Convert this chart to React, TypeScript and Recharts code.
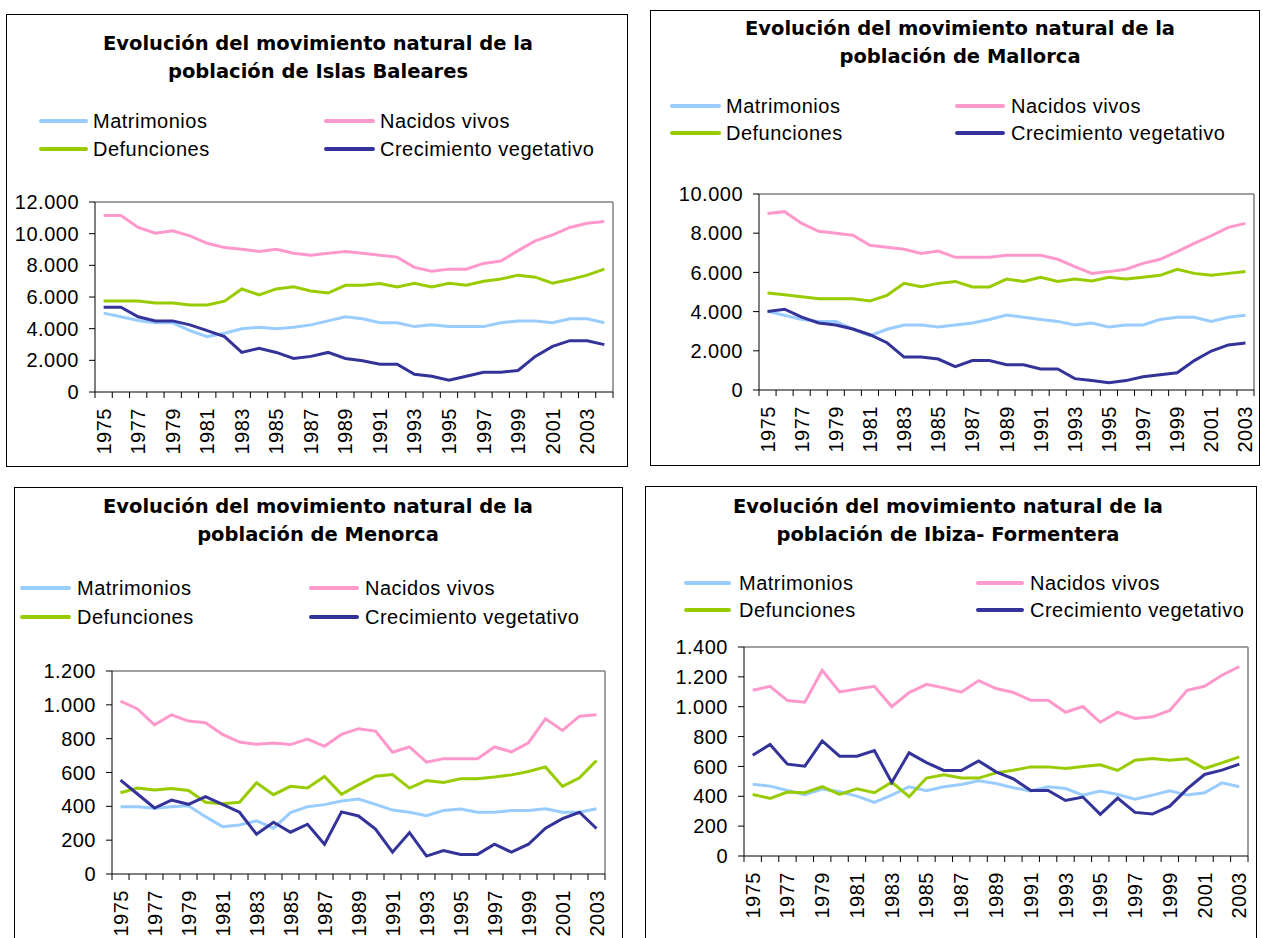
import React from 'react';
import { LineChart, Line, XAxis, YAxis, ReferenceLine } from 'recharts';

// years on the category axis
const YEARS = [
  1975, 1976, 1977, 1978, 1979, 1980, 1981, 1982, 1983, 1984,
  1985, 1986, 1987, 1988, 1989, 1990, 1991, 1992, 1993, 1994,
  1995, 1996, 1997, 1998, 1999, 2000, 2001, 2002, 2003, 2004,
];
const LABEL_YEARS = [1975, 1977, 1979, 1981, 1983, 1985, 1987, 1989, 1991, 1993, 1995, 1997, 1999, 2001, 2003];

// Islas Baleares (1975-2004)
const BAL_MATRIMONIOS = [4980, 4750, 4520, 4370, 4370, 3880, 3500, 3710, 3990, 4090, 3990, 4090, 4240, 4490, 4750, 4620, 4370, 4370, 4130, 4240, 4130, 4130, 4130, 4370, 4490, 4490, 4370, 4620, 4620, 4370];
const BAL_NACIDOS = [11150, 11150, 10390, 10030, 10180, 9860, 9390, 9120, 9010, 8880, 9010, 8760, 8630, 8760, 8880, 8760, 8630, 8520, 7870, 7630, 7760, 7760, 8120, 8270, 8930, 9540, 9920, 10390, 10660, 10770];
const BAL_DEFUNCIONES = [5740, 5740, 5740, 5620, 5620, 5490, 5490, 5740, 6510, 6130, 6510, 6640, 6380, 6250, 6740, 6740, 6850, 6640, 6870, 6640, 6870, 6740, 7000, 7140, 7380, 7250, 6870, 7100, 7380, 7760];
const BAL_CRECIMIENTO = [5360, 5360, 4750, 4490, 4490, 4240, 3880, 3500, 2500, 2760, 2500, 2120, 2250, 2500, 2120, 1970, 1760, 1760, 1120, 1000, 740, 1000, 1250, 1250, 1360, 2250, 2880, 3240, 3240, 2990];
const BAL_TICKS = [0, 2000, 4000, 6000, 8000, 10000, 12000];

// Mallorca (1975-2003)
const MAL_MATRIMONIOS = [4010, 3810, 3600, 3500, 3500, 3110, 2770, 3100, 3320, 3320, 3210, 3320, 3420, 3600, 3830, 3710, 3600, 3500, 3320, 3420, 3210, 3320, 3320, 3600, 3710, 3710, 3500, 3710, 3810];
const MAL_NACIDOS = [9010, 9100, 8500, 8100, 8000, 7900, 7380, 7280, 7180, 6970, 7090, 6770, 6770, 6770, 6870, 6870, 6870, 6670, 6290, 5950, 6040, 6160, 6460, 6670, 7060, 7480, 7870, 8300, 8500];
const MAL_DEFUNCIONES = [4950, 4860, 4760, 4660, 4660, 4660, 4540, 4830, 5440, 5270, 5440, 5540, 5260, 5260, 5660, 5540, 5750, 5540, 5660, 5560, 5750, 5660, 5750, 5850, 6160, 5950, 5850, 5950, 6050];
const MAL_CRECIMIENTO = [4010, 4120, 3720, 3420, 3320, 3110, 2820, 2410, 1680, 1680, 1580, 1190, 1500, 1500, 1290, 1290, 1070, 1070, 580, 480, 370, 480, 680, 780, 880, 1500, 1990, 2300, 2400];
const MAL_TICKS = [0, 2000, 4000, 6000, 8000, 10000];

// Menorca (1975-2003)
const MEN_MATRIMONIOS = [398, 398, 388, 398, 404, 339, 280, 290, 314, 271, 363, 398, 410, 431, 443, 412, 378, 365, 345, 376, 384, 365, 365, 375, 375, 386, 365, 365, 386];
const MEN_NACIDOS = [1022, 976, 882, 941, 904, 894, 825, 780, 767, 775, 765, 798, 755, 825, 859, 845, 720, 751, 661, 682, 682, 682, 751, 722, 776, 918, 849, 933, 941];
const MEN_DEFUNCIONES = [480, 508, 496, 506, 494, 424, 416, 424, 539, 469, 518, 508, 576, 471, 527, 578, 588, 508, 553, 541, 563, 563, 573, 586, 606, 633, 518, 569, 671];
const MEN_CRECIMIENTO = [555, 473, 390, 437, 412, 457, 412, 365, 235, 306, 247, 294, 176, 367, 343, 265, 129, 245, 106, 139, 116, 116, 176, 129, 176, 271, 327, 365, 269];
const MEN_TICKS = [0, 200, 400, 600, 800, 1000, 1200];

// Ibiza - Formentera (1975-2003)
const IBI_MATRIMONIOS = [481, 468, 439, 410, 448, 430, 401, 359, 408, 464, 437, 464, 479, 504, 486, 457, 435, 464, 452, 408, 435, 412, 381, 408, 437, 408, 424, 490, 464];
const IBI_NACIDOS = [1110, 1137, 1041, 1030, 1244, 1099, 1119, 1137, 1001, 1095, 1150, 1126, 1097, 1175, 1122, 1095, 1043, 1043, 963, 1001, 896, 963, 921, 932, 975, 1110, 1137, 1211, 1269];
const IBI_DEFUNCIONES = [412, 386, 428, 424, 464, 412, 450, 424, 495, 397, 522, 544, 522, 522, 557, 575, 597, 597, 586, 599, 611, 573, 642, 653, 642, 651, 586, 624, 664];
const IBI_CRECIMIENTO = [675, 747, 615, 602, 771, 669, 669, 707, 493, 691, 626, 573, 573, 637, 564, 517, 439, 439, 372, 395, 279, 388, 292, 281, 334, 450, 546, 575, 615];
const IBI_TICKS = [0, 200, 400, 600, 800, 1000, 1200, 1400];

const SERIES = [
  { key: 'matrimonios', name: 'Matrimonios', color: '#99CCFF' },
  { key: 'nacidos', name: 'Nacidos vivos', color: '#FF99CC' },
  { key: 'defunciones', name: 'Defunciones', color: '#99CC00' },
  { key: 'crecimiento', name: 'Crecimiento vegetativo', color: '#333399' },
];

const TEXT_FONT = "'Liberation Sans', Arial, sans-serif";
const TITLE_FONT = "'DejaVu Sans', Verdana, sans-serif";

function buildRows(m: number[], n: number[], d: number[], c: number[]) {
  return m.map((_, i) => ({
    year: YEARS[i],
    matrimonios: m[i],
    nacidos: n[i],
    defunciones: d[i],
    crecimiento: c[i],
  }));
}

function thousands(v: number) {
  return String(v).replace(/\B(?=(\d{3})+(?!\d))/g, '.');
}

// tick marks sit between categories, labels on odd years
function YearTick(props: any) {
  const { x, y, payload } = props;
  const v = payload.value;
  if (!Number.isInteger(v)) {
    return <line x1={x} x2={x} y1={y} y2={y + 6} stroke="#000" strokeWidth={1} />;
  }
  const ty = y + 16;
  return (
    <text
      x={x}
      y={ty}
      transform={`rotate(-90 ${x} ${ty})`}
      textAnchor="end"
      dominantBaseline="central"
      fontSize={20}
      fontFamily={TEXT_FONT}
      letterSpacing={0.5}
      fill="#000"
    >
      {v}
    </text>
  );
}

type Rect = { l: number; t: number; r: number; b: number };

interface PanelProps {
  box: Rect;
  plot: Rect;
  title: [string, string];
  titleX: number;
  titleY: [number, number];
  legendY: [number, number];
  legendCols: [number, number, number][]; // line start, line end, text start
  rows: any[];
  yTicks: number[];
}

const Y_WIDTH = 80;
const X_HEIGHT = 60;

function Panel({ box, plot, title, titleX, titleY, legendY, legendCols, rows, yTicks }: PanelProps) {
  const w = box.r - box.l;
  const h = box.b - box.t;
  const first = rows[0].year;
  const last = rows[rows.length - 1].year;
  const yMax = yTicks[yTicks.length - 1];
  const xTicks = [
    first - 0.5,
    ...rows.map((r) => r.year + 0.5),
    ...LABEL_YEARS.filter((y) => y >= first && y <= last),
  ].sort((a, b) => a - b);

  const legendItems = [
    [SERIES[0], 0, 0],
    [SERIES[1], 1, 0],
    [SERIES[2], 0, 1],
    [SERIES[3], 1, 1],
  ] as const;

  return (
    <>
      <div
        style={{
          position: 'absolute',
          left: box.l,
          top: box.t,
          width: w,
          height: h,
          border: '1px solid #000',
          boxSizing: 'border-box',
          background: '#fff',
        }}
      />
      {title.map((line, i) => (
        <div
          key={i}
          style={{
            position: 'absolute',
            left: titleX - 300,
            width: 600,
            top: titleY[i] - 14,
            height: 28,
            lineHeight: '28px',
            textAlign: 'center',
            fontFamily: TITLE_FONT,
            fontWeight: 'bold',
            fontSize: 19.5,
            color: '#000',
            whiteSpace: 'nowrap',
          }}
        >
          {line}
        </div>
      ))}
      {legendItems.map(([s, col, row]) => {
        const [ls, le, tx] = legendCols[col];
        const cy = legendY[row];
        return (
          <React.Fragment key={s.key}>
            <div
              style={{
                position: 'absolute',
                left: ls,
                width: le - ls,
                top: cy - 2,
                height: 4,
                borderRadius: 2,
                background: s.color,
              }}
            />
            <div
              style={{
                position: 'absolute',
                left: tx,
                top: cy - 13,
                height: 26,
                lineHeight: '26px',
                fontFamily: TEXT_FONT,
                fontSize: 20,
                letterSpacing: 0.5,
                color: '#000',
                whiteSpace: 'nowrap',
              }}
            >
              {s.name}
            </div>
          </React.Fragment>
        );
      })}
      <div style={{ position: 'absolute', left: box.l, top: box.t }}>
        <LineChart
          width={w}
          height={h}
          data={rows}
          margin={{
            left: plot.l - box.l - Y_WIDTH,
            top: plot.t - box.t,
            right: box.r - plot.r,
            bottom: box.b - plot.b - X_HEIGHT,
          }}
        >
          <XAxis
            dataKey="year"
            type="number"
            domain={[first - 0.5, last + 0.5]}
            ticks={xTicks}
            interval={0}
            tick={<YearTick />}
            tickLine={false}
            tickSize={0}
            tickMargin={0}
            height={X_HEIGHT}
            axisLine={{ stroke: '#000' }}
          />
          <YAxis
            type="number"
            domain={[yTicks[0], yMax]}
            ticks={yTicks}
            interval={0}
            width={Y_WIDTH}
            tickSize={6}
            tickMargin={10}
            tickLine={{ stroke: '#000' }}
            axisLine={{ stroke: '#000' }}
            tickFormatter={thousands}
            tick={{ fontSize: 20, fill: '#000', fontFamily: TEXT_FONT, letterSpacing: 0.5 }}
          />
          {/* grey frame of the plot area (top and right) */}
          <ReferenceLine y={yMax} stroke="#808080" strokeWidth={1.5} ifOverflow="visible" />
          <ReferenceLine x={last + 0.5} stroke="#808080" strokeWidth={1.5} ifOverflow="visible" />
          {SERIES.map((s) => (
            <Line
              key={s.key}
              type="linear"
              dataKey={s.key}
              name={s.name}
              stroke={s.color}
              strokeWidth={3}
              dot={false}
              isAnimationActive={false}
            />
          ))}
        </LineChart>
      </div>
    </>
  );
}

export default function App() {
  return (
    <div
      style={{
        position: 'absolute',
        left: 0,
        top: 0,
        width: 1263,
        height: 938,
        overflow: 'hidden',
        background: '#fff',
      }}
    >
      <Panel
        box={{ l: 6, t: 14, r: 628, b: 467 }}
        plot={{ l: 95, t: 202, r: 613, b: 392 }}
        title={['Evolución del movimiento natural de la', 'población de Islas Baleares']}
        titleX={318}
        titleY={[44, 72]}
        legendY={[121, 149]}
        legendCols={[[39, 88, 93], [324, 375, 380]]}
        rows={buildRows(BAL_MATRIMONIOS, BAL_NACIDOS, BAL_DEFUNCIONES, BAL_CRECIMIENTO)}
        yTicks={BAL_TICKS}
      />
      <Panel
        box={{ l: 650, t: 10, r: 1260, b: 466 }}
        plot={{ l: 759, t: 194, r: 1254, b: 390 }}
        title={['Evolución del movimiento natural de la', 'población de Mallorca']}
        titleX={960}
        titleY={[29, 57]}
        legendY={[106, 133]}
        legendCols={[[670, 721, 726], [955, 1005, 1011]]}
        rows={buildRows(MAL_MATRIMONIOS, MAL_NACIDOS, MAL_DEFUNCIONES, MAL_CRECIMIENTO)}
        yTicks={MAL_TICKS}
      />
      <Panel
        box={{ l: 14, t: 487, r: 623, b: 945 }}
        plot={{ l: 112, t: 671, r: 605, b: 874 }}
        title={['Evolución del movimiento natural de la', 'población de Menorca']}
        titleX={318}
        titleY={[507, 535]}
        legendY={[588, 617]}
        legendCols={[[20, 71, 77], [309, 359, 365]]}
        rows={buildRows(MEN_MATRIMONIOS, MEN_NACIDOS, MEN_DEFUNCIONES, MEN_CRECIMIENTO)}
        yTicks={MEN_TICKS}
      />
      <Panel
        box={{ l: 645, t: 486, r: 1257, b: 945 }}
        plot={{ l: 744, t: 647, r: 1248, b: 856 }}
        title={['Evolución del movimiento natural de la', 'población de Ibiza- Formentera']}
        titleX={948}
        titleY={[507, 535]}
        legendY={[583, 610]}
        legendCols={[[684, 731, 739], [976, 1024, 1030]]}
        rows={buildRows(IBI_MATRIMONIOS, IBI_NACIDOS, IBI_DEFUNCIONES, IBI_CRECIMIENTO)}
        yTicks={IBI_TICKS}
      />
    </div>
  );
}
